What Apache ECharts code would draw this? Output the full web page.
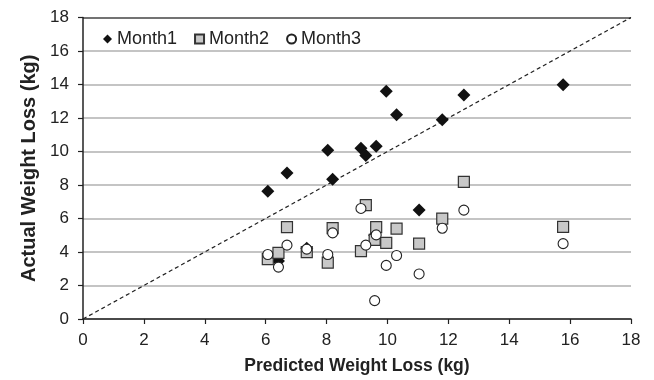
<!DOCTYPE html>
<html>
<head>
<meta charset="utf-8">
<script src="https://cdn.jsdelivr.net/npm/echarts@6/dist/echarts.min.js"></script>
<style>
  html, body { margin: 0; padding: 0; background: #fff; }
  #chart { width: 654px; height: 380px; }
</style>
</head>
<body>
<div id="chart"></div>
<script>
// predicted weight loss per patient (kg)
const predicted = [6.07, 6.42, 6.70, 7.35, 8.04, 8.20, 9.13, 9.29, 9.58, 9.63, 9.96, 10.30, 11.04, 11.80, 12.51, 15.77]
// actual weight loss after each month (kg)
const month1 = [7.62, 3.46, 8.72, 4.23, 10.07, 8.35, 10.19, 9.76, 5.0, 10.31, 13.6, 12.19, 6.51, 11.9, 13.38, 13.99]
const month2 = [3.58, 3.95, 5.48, 3.99, 3.36, 5.42, 4.05, 6.8, 4.72, 5.48, 4.55, 5.4, 4.5, 5.99, 8.19, 5.5]
const month3 = [3.85, 3.1, 4.41, 4.17, 3.85, 5.14, 6.6, 4.41, 1.1, 5.02, 3.2, 3.79, 2.69, 5.42, 6.5, 4.5]
const seriesNames = ['Month1', 'Month2', 'Month3']
const identityLine = [[0, 0], [18, 18]]

const font = 'Liberation Sans, Arial, sans-serif'
const pairs = arr => predicted.map((x, i) => [x, arr[i]])

// gridline colours: last one (y=18) is the dark top edge
const splitColors = ['#b0b0b0', '#b0b0b0', '#b0b0b0', '#b0b0b0', '#b0b0b0',
  '#b0b0b0', '#b0b0b0', '#b0b0b0', '#b0b0b0', '#444']

const chart = echarts.init(document.getElementById('chart'))
chart.setOption({
  animation: false,
  grid: { left: 83, right: 23, top: 17.5, bottom: 59.5 },
  legend: {
    left: 98,
    top: 25,
    itemGap: 17,
    textStyle: { fontFamily: font, fontSize: 18, color: '#222' },
    data: [
      { name: 'Month1', itemStyle: { color: '#111' }, itemWidth: 9, itemHeight: 9 },
      { name: 'Month2' },
      { name: 'Month3' }
    ],
    itemWidth: 9,
    itemHeight: 9
  },
  xAxis: {
    type: 'value',
    min: 0,
    max: 18,
    interval: 2,
    name: 'Predicted Weight Loss (kg)',
    nameLocation: 'middle',
    nameGap: 38,
    nameTextStyle: { fontFamily: font, fontSize: 17.5, fontWeight: 'bold', color: '#222' },
    axisLine: { lineStyle: { color: '#222', width: 1.5 } },
    axisTick: { show: true, length: 5, lineStyle: { color: '#222', width: 1.2 } },
    axisLabel: { fontFamily: font, fontSize: 17, color: '#222', margin: 13 },
    splitLine: { show: false }
  },
  yAxis: {
    type: 'value',
    min: 0,
    max: 18,
    interval: 2,
    name: 'Actual Weight Loss (kg)',
    nameLocation: 'middle',
    nameGap: 44,
    nameTextStyle: { fontFamily: font, fontSize: 20, fontWeight: 'bold', color: '#222' },
    axisLine: { show: true, lineStyle: { color: '#222', width: 1.5 } },
    axisTick: { show: true, length: 5, lineStyle: { color: '#222', width: 1.2 } },
    axisLabel: { fontFamily: font, fontSize: 17, color: '#222', margin: 14 },
    splitLine: { show: true, lineStyle: { color: splitColors, width: 1.5 } }
  },
  series: [
    {
      type: 'line',
      data: identityLine,
      symbol: 'none',
      silent: true,
      lineStyle: { color: '#222', width: 1.2, type: [4, 3] },
      z: 1
    },
    {
      name: 'Month1',
      type: 'scatter',
      data: pairs(month1),
      symbol: 'diamond',
      symbolSize: 13,
      itemStyle: { color: '#111', opacity: 1 },
      z: 2
    },
    {
      name: 'Month2',
      type: 'scatter',
      data: pairs(month2),
      symbol: 'rect',
      symbolSize: 11,
      itemStyle: { color: '#c8c8c8', borderColor: '#333', borderWidth: 1.2, opacity: 1 },
      z: 3
    },
    {
      name: 'Month3',
      type: 'scatter',
      data: pairs(month3),
      symbol: 'circle',
      symbolSize: 10,
      itemStyle: { color: '#fff', borderColor: '#222', borderWidth: 1.1, opacity: 1 },
      z: 4
    }
  ]
})
</script>
</body>
</html>
